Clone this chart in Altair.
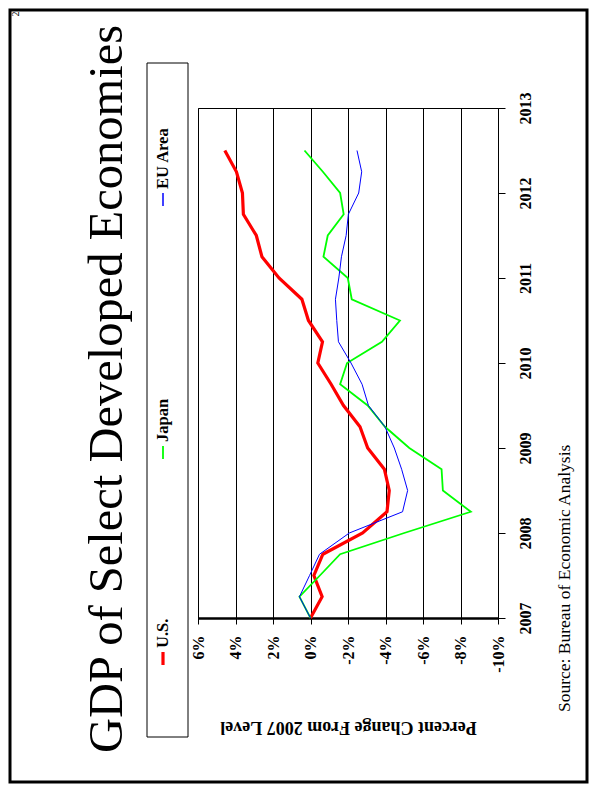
import altair as alt
import pandas as pd

# ---------------- data ----------------
dates = [2007.0, 2007.25, 2007.5, 2007.75, 2008.0, 2008.25, 2008.5, 2008.75,
         2009.0, 2009.25, 2009.5, 2009.75, 2010.0, 2010.25, 2010.5, 2010.75,
         2011.0, 2011.25, 2011.5, 2011.75, 2012.0, 2012.25, 2012.5]
us = [0.0, -0.62, -0.18, -0.66, -2.78, -4.08, -4.2, -3.94, -3.05, -2.64, -1.76, -1.1,
      -0.39, -0.64, 0.11, 0.46, 1.68, 2.59, 2.89, 3.58, 3.63, 3.95, 4.57]
japan = [0.0, 0.59, -0.5, -1.58, -5.0, -8.55, -7.06, -6.99, -5.27, -3.97, -3.05, -1.58,
         -1.95, -3.81, -4.77, -2.2, -1.99, -0.69, -0.92, -1.77, -1.58, -0.66, 0.32]
eu = [0.0, 0.59, 0.05, -0.48, -2.07, -4.91, -5.18, -4.86, -4.47, -3.97, -3.09, -2.75,
      -2.16, -1.49, -1.4, -1.33, -1.51, -1.65, -1.9, -2.02, -2.57, -2.73, -2.48]

series_names = ["U.S.", "Japan", "EU Area"]
series_values = [us, japan, eu]
series_colors = ["#ff0000", "#00ff00", "#0000ff"]
series_widths = [3.2, 1.8, 1.0]

pct_ticks = [6, 4, 2, 0, -2, -4, -6, -8, -10]
year_ticks = [2007, 2008, 2009, 2010, 2011, 2012, 2013]

title_text = "GDP of Select Developed Economies"
axis_title = "Percent Change From 2007 Level"
source_text = "Source:  Bureau of Economic Analysis"
page_number = "2"

FONT = "Liberation Serif"
W, H = 300, 510

rows = []
for name, vals in zip(series_names, series_values):
    for d, v in zip(dates, vals):
        rows.append({"date": d, "value": v, "series": name})
df = pd.DataFrame(rows)

x_enc = alt.X(
    "value:Q",
    scale=alt.Scale(domain=[-10, 6], reverse=True, nice=False, zero=False),
    axis=alt.Axis(
        values=pct_ticks, labelExpr="datum.value + '%'",
        grid=True, gridColor="#000000", gridWidth=1,
        domainColor="#000000", domainWidth=2.5,
        tickColor="#000000", tickSize=6, tickWidth=1,
        labelAngle=270, labelAlign="right", labelBaseline="middle",
        labelPadding=11, labelFont=FONT, labelFontSize=16, labelFontWeight="bold",
        labelColor="#000000", labelFlush=False, labelOverlap=False, labelBound=False,
        title=axis_title, titleAngle=180, titleX=W / 2, titleY=108,
        titleAlign="center", titleBaseline="middle", titleFont=FONT,
        titleFontSize=18, titleFontWeight="bold", titleColor="#000000",
    ),
)
y_enc = alt.Y(
    "date:Q",
    scale=alt.Scale(domain=[2007, 2013], nice=False, zero=False),
    axis=alt.Axis(
        orient="right", values=year_ticks, format="d", grid=False,
        domainColor="#000000", domainWidth=1,
        tickColor="#000000", tickSize=7, tickWidth=1,
        labelAngle=270, labelAlign="center", labelBaseline="top",
        labelPadding=12, labelFont=FONT, labelFontSize=16, labelFontWeight="bold",
        labelColor="#000000", labelFlush=False, labelOverlap=False, labelBound=False,
        title=None,
    ),
)

base = alt.Chart(df).encode(x=x_enc, y=y_enc, order=alt.Order("date:Q"))

layers = []
for name, color, wdt in zip(series_names, series_colors, series_widths):
    layers.append(
        base.transform_filter(alt.datum.series == name).mark_line(
            color=color, strokeWidth=wdt, strokeJoin="miter"
        )
    )

dummy = alt.Chart(pd.DataFrame({"k": [0]}))

# page border
layers.append(
    dummy.mark_rect(fillOpacity=0, stroke="#000000", strokeWidth=3).encode(
        x=alt.value(-188), x2=alt.value(389), y=alt.value(-98), y2=alt.value(674)
    )
)
# legend box
layers.append(
    dummy.mark_rect(fillOpacity=0, stroke="#000000", strokeWidth=1).encode(
        x=alt.value(-51), x2=alt.value(-10), y=alt.value(-45), y2=alt.value(629)
    )
)
legend_sym = [(557, 544), (351, 338), (98, 85)]
legend_txt = [540, 334, 81]
for name, color, wdt, (s1, s2), ty in zip(series_names, series_colors, series_widths,
                                         legend_sym, legend_txt):
    layers.append(
        dummy.mark_rule(color=color, strokeWidth=max(wdt, 1.5)).encode(
            x=alt.value(-35), y=alt.value(s1), y2=alt.value(s2)
        )
    )
    layers.append(
        dummy.mark_text(text=name, font=FONT, fontSize=16.5, fontWeight="bold",
                        angle=270, align="left", baseline="middle",
                        color="#000000").encode(x=alt.value(-35), y=alt.value(ty))
    )

# main title
layers.append(
    dummy.mark_text(text=title_text, font=FONT, fontSize=48.5, angle=270,
                    align="center", baseline="alphabetic",
                    color="#000000").encode(x=alt.value(-76), y=alt.value(281))
)
# source
layers.append(
    dummy.mark_text(text=source_text, font=FONT, fontSize=17.5, angle=270,
                    align="left", baseline="middle",
                    color="#000000").encode(x=alt.value(367), y=alt.value(604))
)
# page number
layers.append(
    dummy.mark_text(text=page_number, font=FONT, fontSize=10, angle=270,
                    align="center", baseline="middle",
                    color="#000000").encode(x=alt.value(-182), y=alt.value(-94))
)

chart = alt.layer(*layers).properties(
    width=W, height=H,
    padding={"left": 190, "top": 100, "right": 91, "bottom": 166},
    autosize=alt.AutoSizeParams(type="none"),
    background="#ffffff",
).configure_view(stroke="#000000", strokeWidth=1)

chart.save("out.html", embed_options={"renderer": "svg", "actions": False})
